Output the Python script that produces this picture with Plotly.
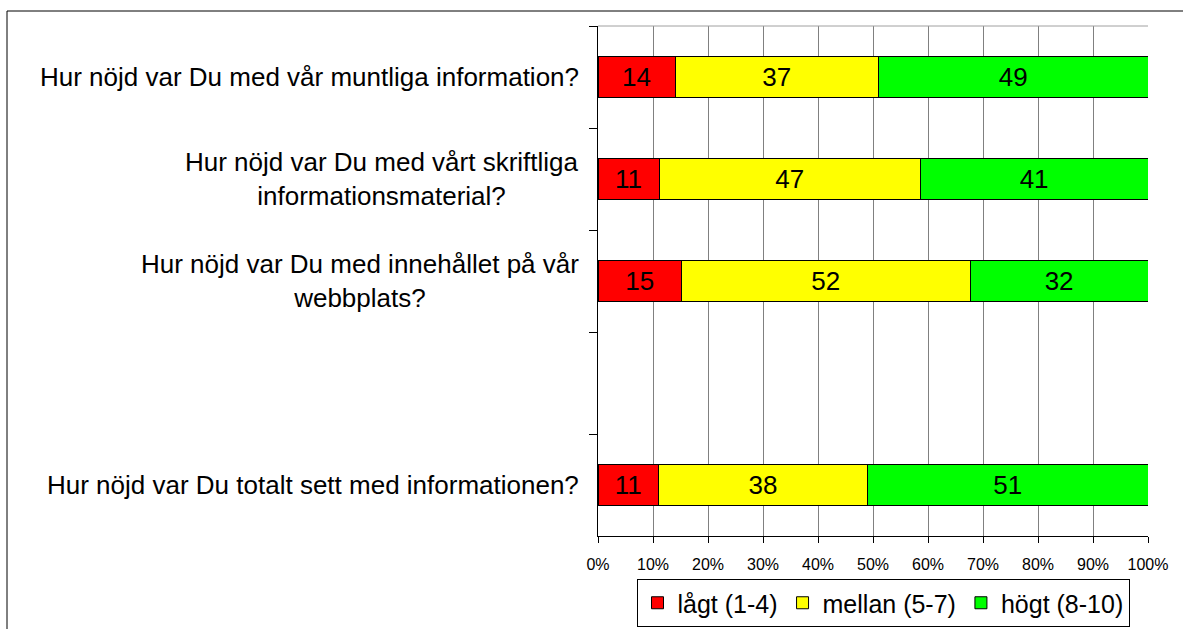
import plotly.graph_objects as go

categories = [
    "Hur nöjd var Du med vår muntliga information?",
    "Hur nöjd var Du med vårt skriftliga<br>informationsmaterial?",
    "Hur nöjd var Du med innehållet på vår<br>webbplats?",
    " ",
    "Hur nöjd var Du totalt sett med informationen?",
]
bar_categories = [categories[0], categories[1], categories[2], categories[4]]
series_names = ["lågt (1-4)", "mellan (5-7)", "högt (8-10)"]
lagt = [14, 11, 15, 11]
mellan = [37, 47, 52, 38]
hogt = [49, 41, 32, 51]
colors = ["#FF0000", "#FFFF00", "#00FF00"]
x_ticks = list(range(0, 101, 10))

FONT = "Liberation Sans, Arial, sans-serif"
W, H = 1183, 629
# plot area in page pixels: x 598..1148, y 26..536
L, T = 598, 26
R = W - 1148
B = H - 536
pw, ph = W - L - R, H - T - B

def px_x(px):  # page pixel -> paper x
    return (px - L) / pw

def px_y(py):  # page pixel -> paper y
    return (H - B - py) / ph

fig = go.Figure()
for name, vals, col in zip(series_names, [lagt, mellan, hogt], colors):
    fig.add_trace(go.Bar(
        y=bar_categories, x=vals, name=name, orientation="h",
        marker=dict(color=col, line=dict(color="black", width=1)),
        text=vals, texttemplate="%{text}", textposition="inside",
        insidetextanchor="middle", textangle=0,
        textfont=dict(family=FONT, size=26, color="black"),
        width=0.4, hoverinfo="skip",
    ))

for c in bar_categories:
    fig.add_annotation(
        x=0, xref="paper", y=c, yref="y", text=c, showarrow=False,
        xanchor="right", yanchor="middle", align="center", xshift=-17,
        font=dict(family=FONT, size=26, color="black"),
    )

# outer frame
fig.add_shape(type="rect", xref="paper", yref="paper",
              x0=px_x(7), x1=px_x(1200), y0=px_y(650), y1=px_y(11),
              line=dict(color="black", width=1), fillcolor="rgba(0,0,0,0)", layer="below")
# top border of plot area
fig.add_shape(type="line", xref="paper", yref="paper", x0=0, x1=1, y0=1, y1=1,
              line=dict(color="#a0a0a0", width=1))

fig.update_layout(
    width=W, height=H, barmode="stack", barnorm="percent",
    margin=dict(l=L, r=R, t=T, b=B, autoexpand=False),
    paper_bgcolor="white", plot_bgcolor="white",
    font=dict(family=FONT, color="black"),
    xaxis=dict(range=[0, 100], tickvals=x_ticks, ticktext=[f"{v}%" for v in x_ticks],
               showgrid=True, gridcolor="#808080", gridwidth=1,
               showline=True, linecolor="black", linewidth=1,
               ticks="outside", ticklen=6, tickcolor="black", ticklabelstandoff=8,
               tickfont=dict(family=FONT, size=16, color="black"), zeroline=False,
               fixedrange=True, automargin=False),
    yaxis=dict(categoryorder="array", categoryarray=categories, type="category",
               range=[4.5, -0.5], showticklabels=False, showgrid=False,
               showline=True, linecolor="black", linewidth=1,
               ticks="outside", ticklen=8, tickcolor="black", tickson="boundaries",
               fixedrange=True, automargin=False),
    legend=dict(orientation="h", x=px_x(883), xanchor="center", y=px_y(627), yanchor="bottom",
                bordercolor="black", borderwidth=1, bgcolor="white",
                font=dict(family=FONT, size=25, color="black"),
                traceorder="normal", itemwidth=30, tracegroupgap=0),
    showlegend=True,
)

fig.write_html(
    "out.html",
    config={"displayModeBar": False},
    post_script="document.body.style.margin='0';document.body.style.overflow='hidden';",
)
